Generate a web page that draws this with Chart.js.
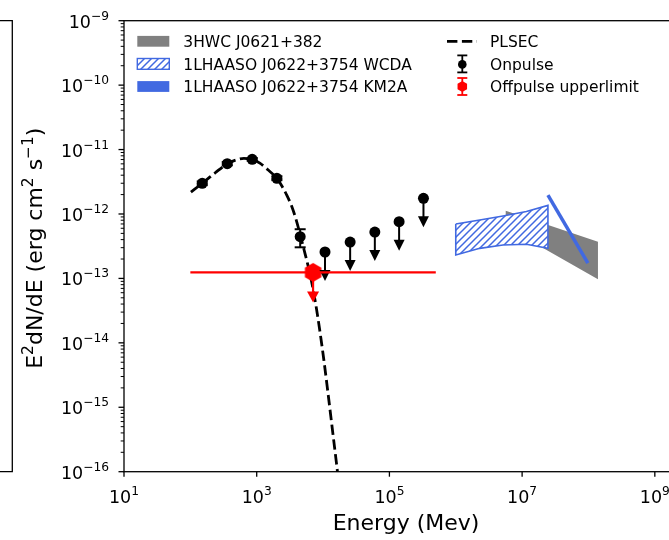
<!DOCTYPE html>
<html>
<head>
<meta charset="utf-8">
<script src="https://cdn.jsdelivr.net/npm/chart.js@4.4.1/dist/chart.umd.min.js"></script>
<style>
  html, body { margin: 0; padding: 0; overflow: hidden; background: #fff; }
  canvas { display: block; }
</style>
</head>
<body>
<canvas id="sed" width="700" height="540"></canvas>
<script>
// energies in MeV, fluxes as E^2 dN/dE in erg cm^-2 s^-1

// onpulse detections
var detEnergy = [151, 360, 855, 2015, 4520];
var detFlux = [2.99e-12, 6.04e-12, 7.06e-12, 3.58e-12, 4.45e-13];
var detFluxLow = [2.8e-12, 5.7e-12, 6.7e-12, 3.35e-12, 3.04e-13];
var detFluxHigh = [3.2e-12, 6.4e-12, 7.4e-12, 3.85e-12, 5.8e-13];

// onpulse upper limits
var ulEnergy = [1.07e4, 2.56e4, 6.03e4, 1.40e5, 3.26e5];
var ulFlux = [2.57e-13, 3.67e-13, 5.25e-13, 7.59e-13, 1.75e-12];

// offpulse upper limit and the energy range it covers
var offEnergy = [7.07e3];
var offFlux = [1.24e-13];
var offEnergyLow = [1.0e2];
var offEnergyHigh = [5.0e5];

// PLSEC fit
var modelEnergy = [102, 151, 235, 360, 486, 642, 855, 1117, 1475, 2015, 2396, 2850, 3390, 3894,
  4520, 5137, 5903, 6781, 7792, 8950, 10280, 11810, 13570, 15970, 16710];
var modelFlux = [2.19e-12, 2.99e-12, 4.33e-12, 6.03e-12, 6.88e-12, 7.31e-12, 7.06e-12, 6.14e-12,
  4.85e-12, 3.58e-12, 2.72e-12, 1.95e-12, 1.30e-12, 8.40e-13, 4.80e-13, 2.86e-13, 1.62e-13,
  8.49e-14, 3.87e-14, 1.53e-14, 5.42e-15, 1.73e-15, 5.31e-16, 1.32e-16, 8.89e-17];

// 3HWC J0621+382 band
var hwcEnergy = [5.66e6, 1.39e8];
var hwcUpper = [1.12e-12, 3.72e-13];
var hwcLower = [6.35e-13, 9.68e-14];

// 1LHAASO WCDA band
var wcdaEnergy = [1.0e6, 2.3e6, 5.15e6, 1.16e7, 2.45e7];
var wcdaUpper = [7.0e-13, 8.07e-13, 9.31e-13, 1.09e-12, 1.36e-12];
var wcdaLower = [2.31e-13, 2.93e-13, 3.30e-13, 3.39e-13, 2.93e-13];

// 1LHAASO KM2A spectrum
var km2aEnergy = [2.45e7, 9.8e7];
var km2aFlux = [1.97e-12, 1.72e-13];

// axis decades that get labels
var xTickPowers = [1, 3, 5, 7, 9];
var yTickPowers = [-16, -15, -14, -13, -12, -11, -10, -9];

var FONT = '"DejaVu Sans", sans-serif';
var BLUE = '#4169e1';
var canvas = document.getElementById('sed');
var ctx = canvas.getContext('2d');

function pts(xs, ys) {
  return xs.map(function (x, i) { return { x: x, y: ys[i] }; });
}

// closed outline: upper edge left to right, lower edge back
function band(xs, up, lo) {
  var p = pts(xs, up);
  for (var i = xs.length - 1; i >= 0; i--) p.push({ x: xs[i], y: lo[i] });
  p.push({ x: xs[0], y: up[0] });
  return p;
}

function makeHatch() {
  var c = document.createElement('canvas');
  c.width = 7; c.height = 7;
  var g = c.getContext('2d');
  g.fillStyle = '#fff';
  g.fillRect(0, 0, 7, 7);
  g.strokeStyle = BLUE;
  g.lineWidth = 1.5;
  g.beginPath();
  g.moveTo(-1, 8); g.lineTo(8, -1);
  g.moveTo(-1, 1); g.lineTo(1, -1);
  g.moveTo(6, 8); g.lineTo(8, 6);
  g.stroke();
  return ctx.createPattern(c, 'repeat');
}

function hexPath(g, x, y, r) {
  g.beginPath();
  for (var k = 0; k < 6; k++) {
    var a = -Math.PI / 2 + k * Math.PI / 3;
    if (k) g.lineTo(x + r * Math.cos(a), y + r * Math.sin(a));
    else g.moveTo(x + r * Math.cos(a), y + r * Math.sin(a));
  }
  g.closePath();
}

function hexMarker(r, color) {
  var c = document.createElement('canvas');
  var s = Math.ceil(2 * r + 2);
  c.width = s; c.height = s;
  var g = c.getContext('2d');
  g.fillStyle = color;
  hexPath(g, s / 2, s / 2, r);
  g.fill();
  return c;
}

function line(g, x1, y1, x2, y2) {
  g.beginPath(); g.moveTo(x1, y1); g.lineTo(x2, y2); g.stroke();
}

function arrowDown(g, x, y, len, half) {
  line(g, x, y, x, y + len - 10);
  g.beginPath();
  g.moveTo(x - half, y + len - 11);
  g.lineTo(x + half, y + len - 11);
  g.lineTo(x, y + len);
  g.closePath();
  g.fill();
}

// "10" with a raised exponent, like the mathtext labels
function powLabel(g, exp, x, y, align) {
  var sup = String(exp).replace('-', '\u2212');
  g.font = '17.5px ' + FONT;
  var wb = g.measureText('10').width;
  g.font = '12.25px ' + FONT;
  var ws = g.measureText(sup).width;
  var x0 = align === 'right' ? x - wb - ws : x - (wb + ws) / 2;
  g.textAlign = 'left';
  g.textBaseline = 'alphabetic';
  g.font = '17.5px ' + FONT;
  g.fillText('10', x0, y);
  g.font = '12.25px ' + FONT;
  g.fillText(sup, x0 + wb, y - 8);
}

// text made of normal and superscript pieces, centred on x
function richText(g, parts, x, y, size) {
  var supSize = size * 0.7, total = 0;
  parts.forEach(function (p) {
    g.font = (p[1] ? supSize : size) + 'px ' + FONT;
    total += g.measureText(p[0]).width;
  });
  var cx = x - total / 2;
  g.textAlign = 'left';
  g.textBaseline = 'alphabetic';
  parts.forEach(function (p) {
    g.font = (p[1] ? supSize : size) + 'px ' + FONT;
    g.fillText(p[0], cx, p[1] ? y - size * 0.42 : y);
    cx += g.measureText(p[0]).width;
  });
}

var errorBars = {
  id: 'errorBars',
  afterDatasetsDraw: function (chart) {
    var g = chart.ctx, xs = chart.scales.x, ys = chart.scales.y;
    g.save();
    g.strokeStyle = '#000';
    g.fillStyle = '#000';
    g.lineWidth = 2;
    detEnergy.forEach(function (e, i) {
      var x = xs.getPixelForValue(e);
      var y1 = ys.getPixelForValue(detFluxHigh[i]);
      var y2 = ys.getPixelForValue(detFluxLow[i]);
      line(g, x, y1, x, y2);
      line(g, x - 5.5, y1, x + 5.5, y1);
      line(g, x - 5.5, y2, x + 5.5, y2);
    });
    ulEnergy.forEach(function (e, i) {
      arrowDown(g, xs.getPixelForValue(e), ys.getPixelForValue(ulFlux[i]), 29, 5.5);
    });
    g.strokeStyle = '#ff0000';
    g.fillStyle = '#ff0000';
    g.lineWidth = 2.2;
    offEnergy.forEach(function (e, i) {
      var y = ys.getPixelForValue(offFlux[i]);
      line(g, xs.getPixelForValue(offEnergyLow[i]), y, xs.getPixelForValue(offEnergyHigh[i]), y);
      arrowDown(g, xs.getPixelForValue(e), y, 30, 6);
    });
    g.restore();
  }
};

var axesAndLegend = {
  id: 'axesAndLegend',
  afterDraw: function (chart) {
    var g = chart.ctx, a = chart.chartArea, xs = chart.scales.x, ys = chart.scales.y;
    g.save();
    g.strokeStyle = '#000';
    g.fillStyle = '#000';

    // edge of the neighbouring panel
    g.lineWidth = 1.3;
    g.beginPath();
    g.moveTo(0, a.top); g.lineTo(12.3, a.top); g.lineTo(12.3, a.bottom); g.lineTo(0, a.bottom);
    g.stroke();

    g.strokeRect(a.left, a.top, a.right - a.left, a.bottom - a.top);

    yTickPowers.forEach(function (p, i) {
      var y = ys.getPixelForValue(Math.pow(10, p));
      g.lineWidth = 1.3;
      line(g, a.left - 5.5, y, a.left, y);
      powLabel(g, p, a.left - 15, y + 7, 'right');
      if (i < yTickPowers.length - 1) {
        g.lineWidth = 1;
        for (var k = 2; k <= 9; k++) {
          var ym = ys.getPixelForValue(k * Math.pow(10, p));
          line(g, a.left - 3.3, ym, a.left, ym);
        }
      }
    });
    xTickPowers.forEach(function (p) {
      var x = xs.getPixelForValue(Math.pow(10, p));
      g.lineWidth = 1.3;
      line(g, x, a.bottom, x, a.bottom + 5);
      powLabel(g, p, x, a.bottom + 31.3, 'center');
    });

    richText(g, [['Energy (Mev)', 0]], (a.left + a.right) / 2, 530, 22);
    g.save();
    g.translate(42, (a.top + a.bottom) / 2 + 2);
    g.rotate(-Math.PI / 2);
    richText(g, [['E', 0], ['2', 1], ['dN/dE (erg cm', 0], ['2', 1], [' s', 0], ['\u22121', 1], [')', 0]], 0, 0, 22);
    g.restore();

    // legend, two columns
    var ds = chart.data.datasets;
    var rows = [41.3, 63.9, 86.5];
    g.font = '15.5px ' + FONT;
    g.textAlign = 'left';
    g.textBaseline = 'alphabetic';
    g.fillStyle = '#808080';
    g.fillRect(137.3, rows[0] - 5.4, 32, 10.8);
    g.fillStyle = ds[1].backgroundColor;
    g.fillRect(137.3, rows[1] - 5.4, 32, 10.8);
    g.strokeStyle = BLUE;
    g.lineWidth = 1.4;
    g.strokeRect(137.3, rows[1] - 5.4, 32, 10.8);
    g.fillStyle = BLUE;
    g.fillRect(137.3, rows[2] - 5.4, 32, 10.8);
    g.fillStyle = '#000';
    for (var r = 0; r < 3; r++) g.fillText(ds[r].label, 183.3, rows[r] + 5.6);

    g.strokeStyle = '#000';
    g.lineWidth = 2.8;
    g.setLineDash([10.4, 4.5]);
    line(g, 447, rows[0], 477, rows[0]);
    g.setLineDash([]);
    g.lineWidth = 1.8;
    line(g, 462.3, rows[1] - 8.5, 462.3, rows[1] + 8.5);
    line(g, 457.3, rows[1] - 8.5, 467.3, rows[1] - 8.5);
    line(g, 457.3, rows[1] + 8.5, 467.3, rows[1] + 8.5);
    g.beginPath(); g.arc(462.3, rows[1] + 0.5, 4.3, 0, Math.PI * 2); g.fill();
    g.strokeStyle = '#ff0000';
    g.fillStyle = '#ff0000';
    line(g, 462.3, rows[2] - 8.5, 462.3, rows[2] + 8.5);
    line(g, 457.3, rows[2] - 8.5, 467.3, rows[2] - 8.5);
    line(g, 457.3, rows[2] + 8.5, 467.3, rows[2] + 8.5);
    hexPath(g, 462.3, rows[2], 5.5);
    g.fill();
    g.fillStyle = '#000';
    for (var q = 0; q < 3; q++) g.fillText(ds[q + 3].label, 490, rows[q] + 5.6);
    g.restore();
  }
};

var chart = new Chart(ctx, {
  type: 'line',
  data: {
    datasets: [
      { label: '3HWC J0621+382', data: band(hwcEnergy, hwcUpper, hwcLower), fill: 'shape',
        backgroundColor: '#808080', borderWidth: 0, pointRadius: 0, order: 6 },
      { label: '1LHAASO J0622+3754 WCDA', data: band(wcdaEnergy, wcdaUpper, wcdaLower), fill: 'shape',
        backgroundColor: makeHatch(), borderColor: BLUE, borderWidth: 1.6, pointRadius: 0, order: 5 },
      { label: '1LHAASO J0622+3754 KM2A', data: pts(km2aEnergy, km2aFlux),
        borderColor: BLUE, borderWidth: 3.5, pointRadius: 0, order: 4 },
      { label: 'PLSEC', data: pts(modelEnergy, modelFlux), borderColor: '#000', borderWidth: 2.8,
        borderDash: [10.4, 4.5], cubicInterpolationMode: 'monotone', pointRadius: 0, order: 3 },
      { label: 'Onpulse', data: pts(detEnergy, detFlux).concat(pts(ulEnergy, ulFlux)), showLine: false,
        pointRadius: 5.5, pointBackgroundColor: '#000', pointBorderWidth: 0, order: 2 },
      { label: 'Offpulse upperlimit', data: pts(offEnergy, offFlux), showLine: false,
        pointStyle: hexMarker(9.5, '#ff0000'), pointRadius: 9.5, order: 1 }
    ]
  },
  options: {
    responsive: false,
    animation: false,
    devicePixelRatio: 1,
    layout: { padding: { top: 20.7, right: 12, bottom: 0, left: 0 } },
    plugins: { legend: { display: false }, tooltip: { enabled: false } },
    scales: {
      x: {
        type: 'logarithmic', min: 10, max: Math.pow(10, 9.5),
        grid: { display: false }, border: { display: false }, ticks: { display: false },
        afterFit: function (s) { s.height = 68.3; }
      },
      y: {
        type: 'logarithmic', min: 1e-16, max: 1e-9,
        grid: { display: false }, border: { display: false }, ticks: { display: false },
        afterFit: function (s) { s.width = 124; }
      }
    }
  },
  plugins: [errorBars, axesAndLegend]
});
</script>
</body>
</html>
